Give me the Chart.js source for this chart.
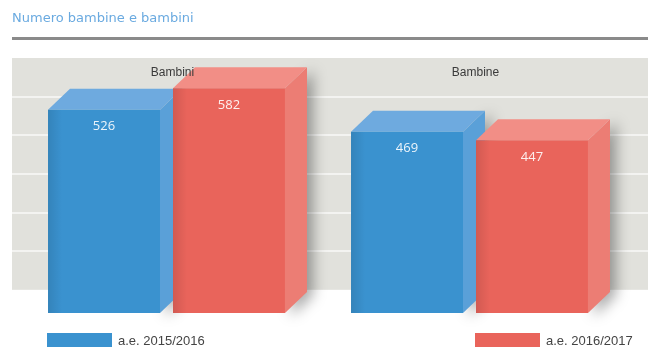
<!DOCTYPE html>
<html>
<head>
<meta charset="utf-8">
<script src="https://cdn.jsdelivr.net/npm/chart.js@4.4.1/dist/chart.umd.min.js"></script>
<style>
  html, body { margin: 0; padding: 0; background: #fff; }
  #wrap { width: 648px; height: 353px; position: relative; }
</style>
</head>
<body>
<div id="wrap"><canvas id="myChart" width="648" height="353"></canvas></div>
<script>
// data
const chartTitle = 'Numero bambine e bambini';
const categories = ['Bambini', 'Bambine'];
const series2015 = [526, 469];
const series2016 = [582, 447];
const seriesLabels = ['a.e. 2015/2016', 'a.e. 2016/2017'];
// backdrop band lines (value axis)
const bandValues = [60, 160, 260, 360, 460, 560, 660];

const frontColors = ['#3a92cf', '#e9645b'];
const topColors = ['#6eaadf', '#f28e86'];
const sideColors = ['#5aa0d8', '#ec7d74'];

const DX = 22, DY = 21;

// gray backdrop, title, rule
const backdrop = {
  id: 'backdrop',
  beforeDraw(chart) {
    const ctx = chart.ctx;
    const y = chart.scales.y;
    const yTop = y.getPixelForValue(bandValues[bandValues.length - 1]);
    const yBot = y.getPixelForValue(bandValues[0]);
    ctx.save();
    ctx.fillStyle = '#e1e1dc';
    ctx.fillRect(12, yTop, chart.width - 12, yBot - yTop);
    ctx.fillStyle = 'rgba(255,255,255,0.6)';
    for (let i = 1; i < bandValues.length - 1; i++) {
      const py = Math.round(y.getPixelForValue(bandValues[i]));
      ctx.fillRect(12, py - 1, chart.width - 12, 2);
    }
    // title
    ctx.font = '13px "DejaVu Sans", sans-serif';
    ctx.fillStyle = '#6aaae0';
    ctx.textBaseline = 'alphabetic';
    ctx.fillText(chartTitle, 12, 22);
    ctx.fillStyle = '#8a8a8a';
    ctx.fillRect(12, 37, chart.width - 12, 3);
    ctx.restore();
  }
};

// 3D top and side faces of each bar
const box3d = {
  id: 'box3d',
  beforeDatasetsDraw(chart) {
    const ctx = chart.ctx;
    ctx.save();
    chart.data.datasets.forEach((ds, di) => {
      const meta = chart.getDatasetMeta(di);
      meta.data.forEach(bar => {
        const x0 = bar.x - bar.width / 2;
        const x1 = bar.x + bar.width / 2;
        const top = bar.y, base = bar.base;
        // side with soft shadow
        ctx.save();
        ctx.shadowColor = 'rgba(0,0,0,0.35)';
        ctx.shadowBlur = 14;
        ctx.shadowOffsetX = 6;
        ctx.shadowOffsetY = 3;
        ctx.fillStyle = sideColors[di];
        ctx.beginPath();
        ctx.moveTo(x1, top);
        ctx.lineTo(x1 + DX, top - DY);
        ctx.lineTo(x1 + DX, base - DY);
        ctx.lineTo(x1, base);
        ctx.closePath();
        ctx.fill();
        ctx.restore();
        // top
        ctx.fillStyle = topColors[di];
        ctx.beginPath();
        ctx.moveTo(x0, top);
        ctx.lineTo(x0 + DX, top - DY);
        ctx.lineTo(x1 + DX, top - DY);
        ctx.lineTo(x1, top);
        ctx.closePath();
        ctx.fill();
      });
    });
    ctx.restore();
  },
  afterDatasetsDraw(chart) {
    const ctx = chart.ctx;
    ctx.save();
    // slight shading on the left edge of each front face
    chart.data.datasets.forEach((ds, di) => {
      chart.getDatasetMeta(di).data.forEach(bar => {
        const x0 = bar.x - bar.width / 2;
        const g = ctx.createLinearGradient(x0, 0, x0 + 14, 0);
        g.addColorStop(0, 'rgba(0,0,0,0.10)');
        g.addColorStop(1, 'rgba(0,0,0,0)');
        ctx.fillStyle = g;
        ctx.fillRect(x0, bar.y, 14, bar.base - bar.y);
      });
    });
    ctx.font = '13px "Open Sans", "Liberation Sans", sans-serif';
    ctx.fillStyle = 'rgba(255,255,255,0.9)';
    ctx.textAlign = 'center';
    ctx.textBaseline = 'middle';
    chart.data.datasets.forEach((ds, di) => {
      chart.getDatasetMeta(di).data.forEach((bar, i) => {
        ctx.fillText(String(ds.data[i]), bar.x, bar.y + 17);
      });
    });
    // category labels, on top of the boxes
    ctx.font = '12px "Liberation Sans", Arial, sans-serif';
    ctx.fillStyle = '#3a3a3a';
    const x = chart.scales.x;
    categories.forEach((c, i) => {
      ctx.fillText(c, x.getPixelForValue(i) + 6, 73);
    });
    ctx.restore();
  }
};

// legend spread to left and right
const spreadLegend = {
  id: 'spreadLegend',
  afterDraw(chart) {
    const ctx = chart.ctx;
    const spots = [47, 475];
    ctx.save();
    ctx.font = '13px "Liberation Sans Narrow", "Liberation Sans", Arial, sans-serif';
    ctx.textBaseline = 'middle';
    chart.data.datasets.forEach((ds, di) => {
      ctx.fillStyle = frontColors[di];
      ctx.fillRect(spots[di], 333, 65, 14);
      ctx.fillStyle = '#444';
      ctx.fillText(ds.label, spots[di] + 71, 341);
    });
    ctx.restore();
  }
};

const ctx = document.getElementById('myChart');
new Chart(ctx, {
  type: 'bar',
  data: {
    labels: categories,
    datasets: [
      { label: seriesLabels[0], data: series2015, backgroundColor: frontColors[0], borderWidth: 0 },
      { label: seriesLabels[1], data: series2016, backgroundColor: frontColors[1], borderWidth: 0 }
    ]
  },
  options: {
    responsive: false,
    animation: false,
    categoryPercentage: 0.825,
    barPercentage: 0.896,
    layout: { padding: { top: 58, bottom: 40, left: 15, right: 27 } },
    scales: {
      x: { display: false },
      y: { display: false, min: 0, max: 660 }
    },
    plugins: {
      legend: { display: false },
      tooltip: { enabled: false }
    }
  },
  plugins: [backdrop, box3d, spreadLegend]
});
</script>
</body>
</html>
